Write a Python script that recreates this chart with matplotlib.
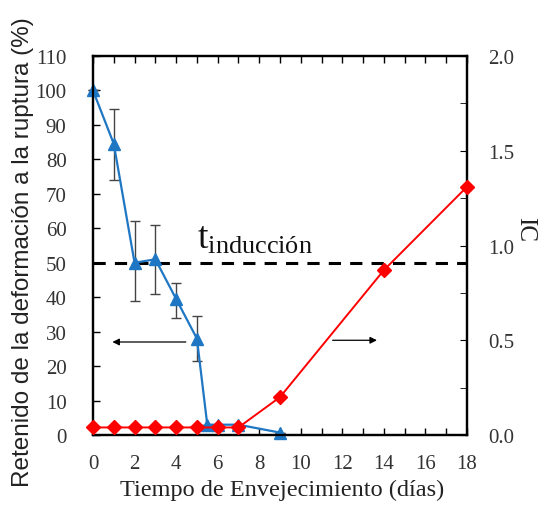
import matplotlib.pyplot as plt
from matplotlib.ticker import MultipleLocator

plt.rcParams['font.family'] = ['Liberation Serif', 'DejaVu Serif']

# retained elongation at break (%), left axis
dias_ret = [0, 1, 2, 3, 4, 5, 5.5, 6, 7, 9]
retenido = [100, 84.5, 50, 51, 39.5, 28, 3, 3, 3, 0.7]
err_low = [0, 10.5, 11, 10, 5.5, 6.5, 0, 0, 0, 0]
err_high = [0, 10, 12, 10, 4.5, 6.5, 0, 0, 0, 0]

# carbonyl index, right axis
dias_ic = [0, 1, 2, 3, 4, 5, 6, 7, 9, 14, 18]
ic = [0.04, 0.04, 0.04, 0.04, 0.04, 0.04, 0.04, 0.04, 0.2, 0.87, 1.31]

umbral = 50

fig = plt.figure(figsize=(5.42, 5.06), dpi=100)
ax = fig.add_axes([0.1716, 0.1383, 0.69, 0.749])
ax2 = ax.twinx()

ax.errorbar(dias_ret, retenido, yerr=[err_low, err_high], color='#1f77c4',
            marker='^', markersize=9, linewidth=1.6, ecolor='#444444',
            elinewidth=1.0, capsize=3.5, capthick=1.0, zorder=4, clip_on=False)
ax.axhline(umbral, color='black', linestyle=(0, (4, 3)), linewidth=2.2, zorder=2)

ax2.plot(dias_ic, ic, color='#ff0000', marker='D', markersize=7,
         linewidth=1.4, zorder=3, clip_on=False)

ax.set_xlim(0, 18)
ax.set_ylim(0, 110)
ax2.set_ylim(0, 2.0)

ax.xaxis.set_major_locator(MultipleLocator(2))
ax.xaxis.set_minor_locator(MultipleLocator(1))
ax.yaxis.set_major_locator(MultipleLocator(10))
ax2.yaxis.set_major_locator(MultipleLocator(0.5))
ax2.yaxis.set_minor_locator(MultipleLocator(0.25))
ax2.yaxis.set_major_formatter(lambda v, p: f'{v:.1f}')

ax.tick_params(axis='both', which='both', direction='in', top=True,
               labelsize=15, colors='black', labelcolor='#333333')
ax.tick_params(which='major', length=5, width=1)
ax.tick_params(which='minor', length=5, width=1)
ax.tick_params(axis='x', pad=14)
ax.tick_params(axis='y', pad=19)
ax2.tick_params(axis='y', which='both', direction='in', length=5,
                labelsize=15, labelcolor='#333333', pad=15)
for a in (ax, ax2):
    for s in a.spines.values():
        s.set_linewidth(1.6)

ax.set_xlabel('Tiempo de Envejecimiento (días)', fontsize=17.5, color='#222222')
ax.xaxis.set_label_coords(0.505, -0.115)
ax.set_ylabel('Retenido de la deformación a la ruptura (%)', fontsize=17.5,
              color='#222222', family=['Liberation Sans', 'DejaVu Sans'])
ax.yaxis.set_label_coords(-0.158, 0.485)
ax2.set_ylabel('IC', fontsize=18, rotation=270, color='#222222')
ax2.yaxis.set_label_coords(1.185, 0.544)

ax.text(5.0, 54.5, r'$\mathregular{t_{inducción}}$', fontsize=27, color='#111111')

ax.annotate('', xy=(0.8, 27), xytext=(4.6, 27),
            arrowprops=dict(arrowstyle='-|>', color='black', lw=0.9,
                            mutation_scale=10))
ax2.annotate('', xy=(13.8, 0.5), xytext=(11.4, 0.5),
             arrowprops=dict(arrowstyle='-|>', color='black', lw=0.9,
                             mutation_scale=10))

fig.savefig('out.png', dpi=100)
